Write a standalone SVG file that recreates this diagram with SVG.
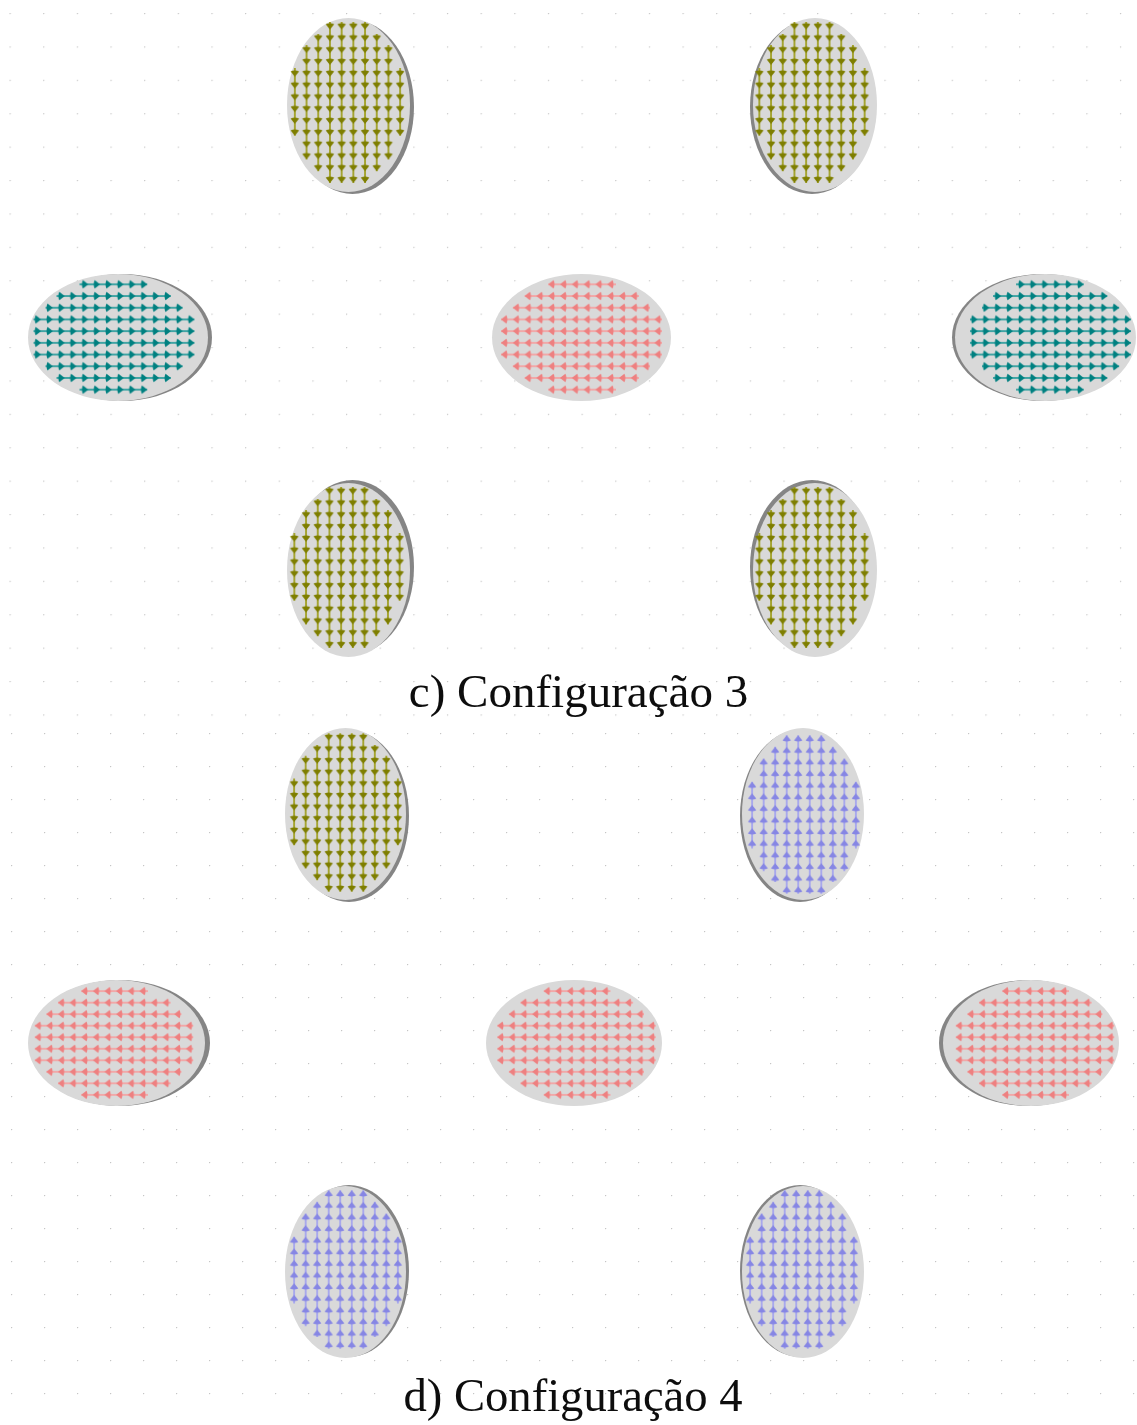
<svg xmlns="http://www.w3.org/2000/svg" width="1137" height="1425" viewBox="0 0 1137 1425">
<style>
.body{fill:#d9d9d9}
.shadow{fill:#858585}
.node{filter:url(#soft)}
.cap{font-family:"Liberation Serif","Times New Roman",serif;fill:#0a0a0a;text-anchor:middle;filter:url(#softer)}
</style>
<defs>
<filter id="soft" x="-5%" y="-5%" width="110%" height="110%"><feGaussianBlur stdDeviation="0.75"/></filter>
<filter id="softer" x="-2%" y="-5%" width="104%" height="110%"><feGaussianBlur stdDeviation="0.35"/></filter>
<pattern id="dots1" width="33.65" height="33.4" patternUnits="userSpaceOnUse" patternTransform="translate(9.5 13)"><circle cx="0.6" cy="0.6" r="0.7" fill="#c4c4c4"/></pattern>
<pattern id="dots2" width="33" height="33" patternUnits="userSpaceOnUse" patternTransform="translate(11 733)"><circle cx="0.6" cy="0.6" r="0.7" fill="#c4c4c4"/></pattern>
<pattern id="olive" width="11.7" height="11.8" patternUnits="userSpaceOnUse" patternTransform="translate(0 -1.6)"><path d="M5.85 0V11.8" stroke="#a0a022" stroke-width="1.8"/><path d="M5.85 11.8L1.6 6.4Q5.85 4.2 10.1 6.4Z" fill="#7e7e00"/></pattern>
<pattern id="teal" width="11.7" height="11.8" patternUnits="userSpaceOnUse" patternTransform="translate(0 -1.6)"><path d="M5.85 0V11.8" stroke="#34a0a0" stroke-width="1.8"/><path d="M5.85 11.8L1.6 6.4Q5.85 4.2 10.1 6.4Z" fill="#008080"/></pattern>
<pattern id="pink" width="11.7" height="11.8" patternUnits="userSpaceOnUse" patternTransform="translate(0 -1.6)"><path d="M5.85 0V11.8" stroke="#f4a4a4" stroke-width="1.8"/><path d="M5.85 11.8L1.6 6.4Q5.85 4.2 10.1 6.4Z" fill="#ee8080"/></pattern>
<pattern id="blue" width="11.7" height="11.8" patternUnits="userSpaceOnUse" patternTransform="translate(0 -1.6)"><path d="M5.85 0V11.8" stroke="#a4a4ee" stroke-width="1.8"/><path d="M5.85 11.8L1.6 6.4Q5.85 4.2 10.1 6.4Z" fill="#8686e4"/></pattern>
<path id="field" d="M-23.4-80H23.4V-68H35.1V-57H46.8V-34H58.5V33.8H46.8V57.4H35.1V69.2H23.4V81H-23.4V69.2H-35.1V57.4H-46.8V33.8H-58.5V-34H-46.8V-57H-35.1V-68H-23.4Z"/>
</defs>
<rect width="1137" height="1425" fill="#fff"/>
<rect width="1137" height="720" fill="url(#dots1)"/>
<rect y="725" width="1137" height="700" fill="url(#dots2)"/>

<g id="c-top-left" class="node"><ellipse class="shadow" cx="352.5" cy="107" rx="61.5" ry="87"/><ellipse class="body" cx="348.5" cy="105" rx="61.5" ry="87"/><use href="#field" fill="url(#olive)" transform="translate(347.5 102)"/></g>
<g id="c-top-right" class="node"><ellipse class="shadow" cx="812" cy="107" rx="62" ry="87"/><ellipse class="body" cx="815" cy="105" rx="62" ry="87"/><use href="#field" fill="url(#olive)" transform="translate(812 102)"/></g>
<g id="c-left" class="node"><ellipse class="shadow" cx="122" cy="337.5" rx="90" ry="63.5"/><ellipse class="body" cx="118" cy="337.5" rx="90" ry="63.5"/><use href="#field" fill="url(#teal)" transform="translate(113.5 337) rotate(-90)"/></g>
<g id="c-center" class="node"><ellipse class="body" cx="581.5" cy="337.5" rx="89.5" ry="63.5"/><use href="#field" fill="url(#pink)" transform="translate(582 337) rotate(90)"/></g>
<g id="c-right" class="node"><ellipse class="shadow" cx="1042.5" cy="337.5" rx="90.5" ry="63.5"/><ellipse class="body" cx="1045.5" cy="337.5" rx="90.5" ry="63.5"/><use href="#field" fill="url(#teal)" transform="translate(1050 337) rotate(-90)"/></g>
<g id="c-bottom-left" class="node"><ellipse class="shadow" cx="352.5" cy="567" rx="61.5" ry="87"/><ellipse class="body" cx="348.5" cy="570" rx="61.5" ry="87"/><use href="#field" fill="url(#olive)" transform="translate(347 567)"/></g>
<g id="c-bottom-right" class="node"><ellipse class="shadow" cx="812" cy="567" rx="62" ry="87"/><ellipse class="body" cx="815" cy="570" rx="62" ry="87"/><use href="#field" fill="url(#olive)" transform="translate(812 567)"/></g>
<text id="caption-c" class="cap" x="578.5" y="707" font-size="47">c) Configuração 3</text>

<g id="d-top-left" class="node"><ellipse class="shadow" cx="349" cy="816" rx="60" ry="86"/><ellipse class="body" cx="345.5" cy="814" rx="60.5" ry="86"/><use href="#field" fill="url(#olive)" transform="translate(346 812) scale(.985)"/></g>
<g id="d-top-right" class="node"><ellipse class="shadow" cx="800" cy="816" rx="60" ry="86"/><ellipse class="body" cx="803" cy="814" rx="61" ry="86"/><use href="#field" fill="url(#blue)" transform="translate(804 815) scale(.985 -.985)"/></g>
<g id="d-left" class="node"><ellipse class="shadow" cx="119.5" cy="1043" rx="90.5" ry="63"/><ellipse class="body" cx="116.5" cy="1043" rx="88.5" ry="63"/><use href="#field" fill="url(#pink)" transform="translate(114.5 1043) rotate(90) scale(.985)"/></g>
<g id="d-center" class="node"><ellipse class="body" cx="574" cy="1043" rx="88" ry="63"/><use href="#field" fill="url(#pink)" transform="translate(577 1043) rotate(90) scale(.985)"/></g>
<g id="d-right" class="node"><ellipse class="shadow" cx="1028" cy="1043" rx="89" ry="63"/><ellipse class="body" cx="1031" cy="1043" rx="88" ry="63"/><use href="#field" fill="url(#pink)" transform="translate(1035.5 1043) rotate(90) scale(.985)"/></g>
<g id="d-bottom-left" class="node"><ellipse class="shadow" cx="349" cy="1271" rx="60" ry="86"/><ellipse class="body" cx="345.5" cy="1272" rx="60.5" ry="86"/><use href="#field" fill="url(#blue)" transform="translate(346 1270) scale(.985 -.985)"/></g>
<g id="d-bottom-right" class="node"><ellipse class="shadow" cx="800" cy="1271" rx="60" ry="86"/><ellipse class="body" cx="803" cy="1272" rx="61" ry="86"/><use href="#field" fill="url(#blue)" transform="translate(802 1270) scale(.985 -.985)"/></g>
<text id="caption-d" class="cap" x="573" y="1411" font-size="46.6">d) Configuração 4</text>
<g id="connectors"/>
</svg>
